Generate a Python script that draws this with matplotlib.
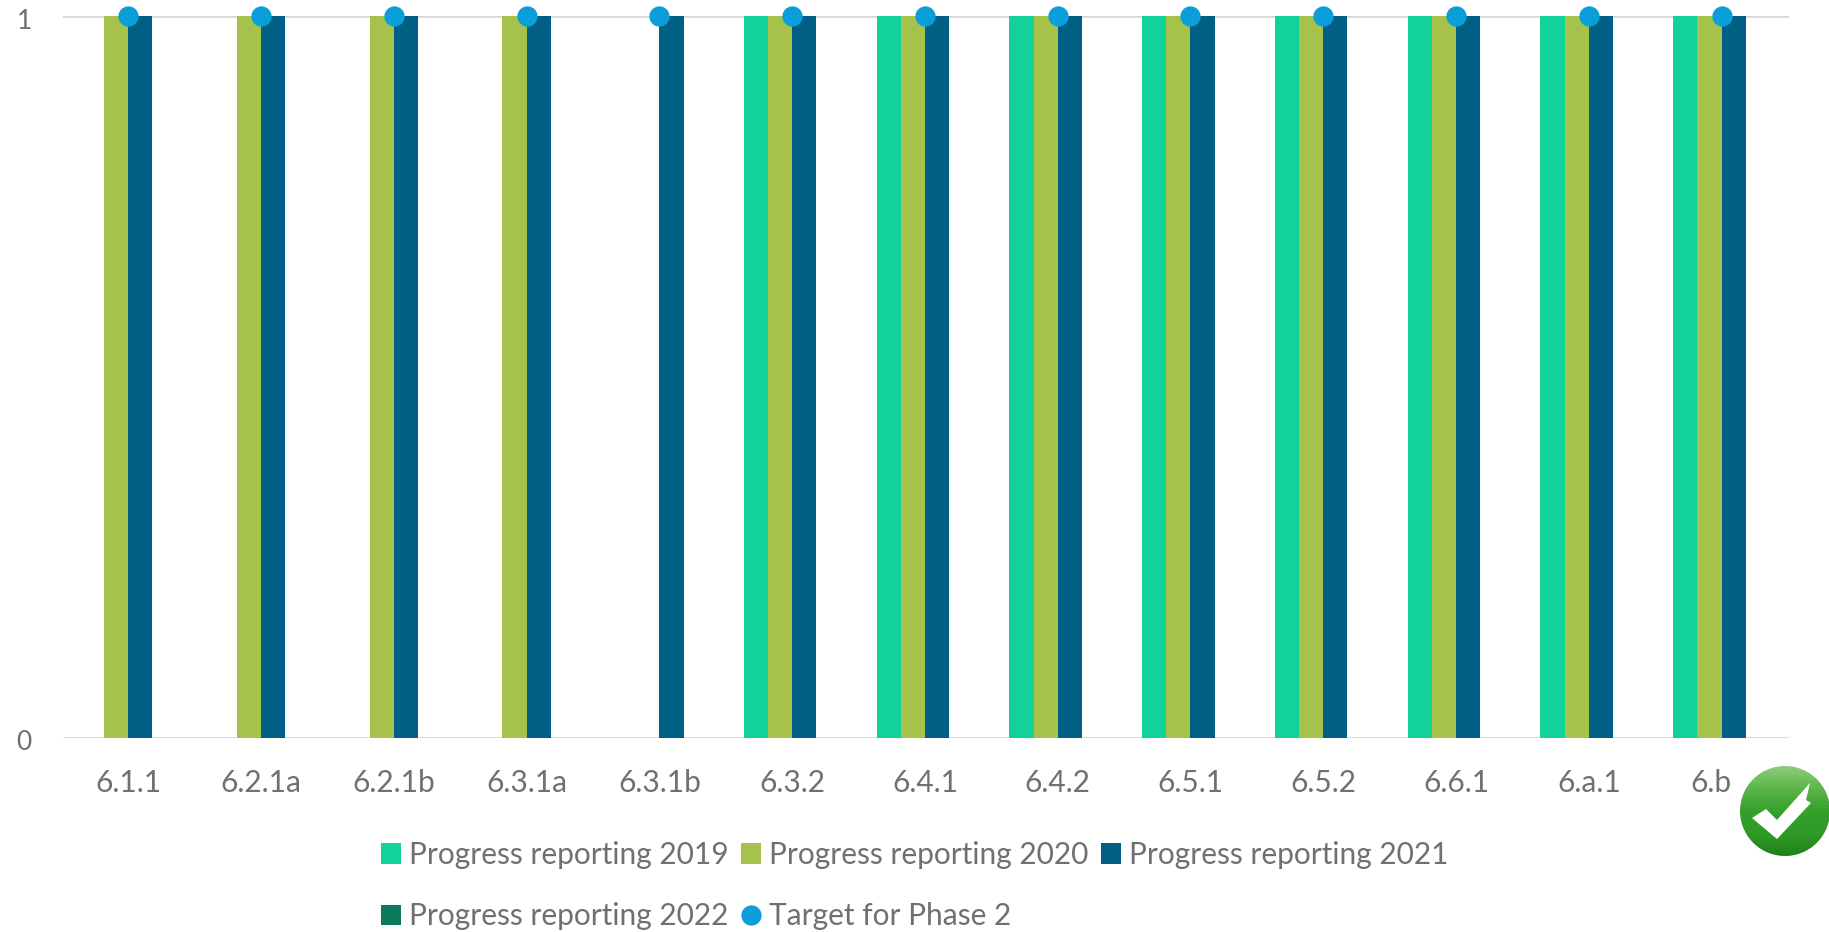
import matplotlib
matplotlib.use('Agg')
import matplotlib.pyplot as plt
import numpy as np
from matplotlib.colors import LinearSegmentedColormap
from matplotlib.patches import Circle, Polygon
from matplotlib.transforms import ScaledTranslation

plt.rcParams['font.family'] = ['Lato', 'DejaVu Sans']

# Chart values
categories = ['6.1.1', '6.2.1a', '6.2.1b', '6.3.1a', '6.3.1b', '6.3.2', '6.4.1',
              '6.4.2', '6.5.1', '6.5.2', '6.6.1', '6.a.1', '6.b']
reporting_2019 = [0, 0, 0, 0, 0, 1, 1, 1, 1, 1, 1, 1, 1]
reporting_2020 = [1, 1, 1, 1, 0, 1, 1, 1, 1, 1, 1, 1, 1]
reporting_2021 = [1, 1, 1, 1, 1, 1, 1, 1, 1, 1, 1, 1, 1]
reporting_2022 = [0, 0, 0, 0, 0, 0, 0, 0, 0, 0, 0, 0, 0]
target_phase2 = [1, 1, 1, 1, 1, 1, 1, 1, 1, 1, 1, 1, 1]

W, H = 1829, 932
TEXT = '#707070'
GRID = '#d9d9d9'

fig = plt.figure(figsize=(W / 100, H / 100), dpi=100)
ax = fig.add_axes([63 / W, 1 - 737.5 / H, (1789 - 63) / W, (737.5 - 16) / H])

x = np.arange(len(categories))
w = 0.182

b19 = ax.bar(x - 1.5 * w, reporting_2019, w, color='#13D19B', zorder=2, label='Progress reporting 2019')
b20 = ax.bar(x - 0.5 * w, reporting_2020, w, color='#A6C24A', zorder=2, label='Progress reporting 2020')
b21 = ax.bar(x + 0.5 * w, reporting_2021, w, color='#005F85', zorder=2, label='Progress reporting 2021')
b22 = ax.bar(x + 1.5 * w, reporting_2022, w, color='#0A7A5C', zorder=2, label='Progress reporting 2022')
tgt, = ax.plot(x, target_phase2, ls='none', marker='o', ms=14.6, color='#0A9FDB', mec='none',
               clip_on=False, zorder=4, label='Target for Phase 2')

ax.set_xlim(-0.492, len(categories) - 0.492)
ax.set_ylim(0, 1)
ax.set_yticks([0, 1])
ax.set_xticks(x)
ax.set_xticklabels(categories)
ax.tick_params(length=0, labelcolor=TEXT, labelsize=21.5)
ax.tick_params(axis='x', pad=23)
ax.tick_params(axis='y', pad=22.5, labelsize=19)
for s in ax.spines.values():
    s.set_visible(False)
ax.grid(axis='y', color=GRID, lw=2, zorder=1)
ax.set_axisbelow(True)

# y labels sit a little below their gridlines, the last x label is pushed left by the badge
for lab in ax.get_yticklabels():
    lab.set_transform(lab.get_transform() + ScaledTranslation(0, -2 / 72, fig.dpi_scale_trans))
last = ax.get_xticklabels()[-1]
last.set_transform(last.get_transform() + ScaledTranslation(-11 / 100, 0, fig.dpi_scale_trans))

# matplotlib fills columns first, so order handles to read 3 on top and 2 below
fig.legend([b19, b22, b20, tgt, b21],
           ['Progress reporting 2019', 'Progress reporting 2022', 'Progress reporting 2020',
            'Target for Phase 2', 'Progress reporting 2021'],
           ncol=3, frameon=False, loc='upper left', bbox_to_anchor=(381 / W, 1 - 841 / H),
           bbox_transform=fig.transFigure, borderaxespad=0, borderpad=0,
           fontsize=21.5, labelcolor=TEXT, handlelength=0.66, handleheight=0.66,
           handletextpad=0.28, columnspacing=0.42, labelspacing=1.12)

# Green tick badge in the lower right corner, drawn in pixel coordinates
over = fig.add_axes([0, 0, 1, 1], zorder=10)
over.set_xlim(0, W)
over.set_ylim(H, 0)
over.axis('off')
cmap = LinearSegmentedColormap.from_list('badge', ['#8fce80', '#5db54b', '#35a02a', '#2f9a25', '#1f7f1a'])
grad = np.linspace(0, 1, 128).reshape(-1, 1)
im = over.imshow(grad, cmap=cmap, extent=(1740, 1830, 857, 765), aspect='auto', zorder=1)
im.set_clip_path(Circle((1785, 811), 45, transform=over.transData))
over.add_patch(Polygon([(1752, 818), (1766, 809), (1777, 820), (1810, 783), (1806, 800),
                        (1811, 803), (1777, 839)], color='white', lw=0, zorder=3))
over.set_xlim(0, W)
over.set_ylim(H, 0)

fig.savefig('out.png', dpi=100)
